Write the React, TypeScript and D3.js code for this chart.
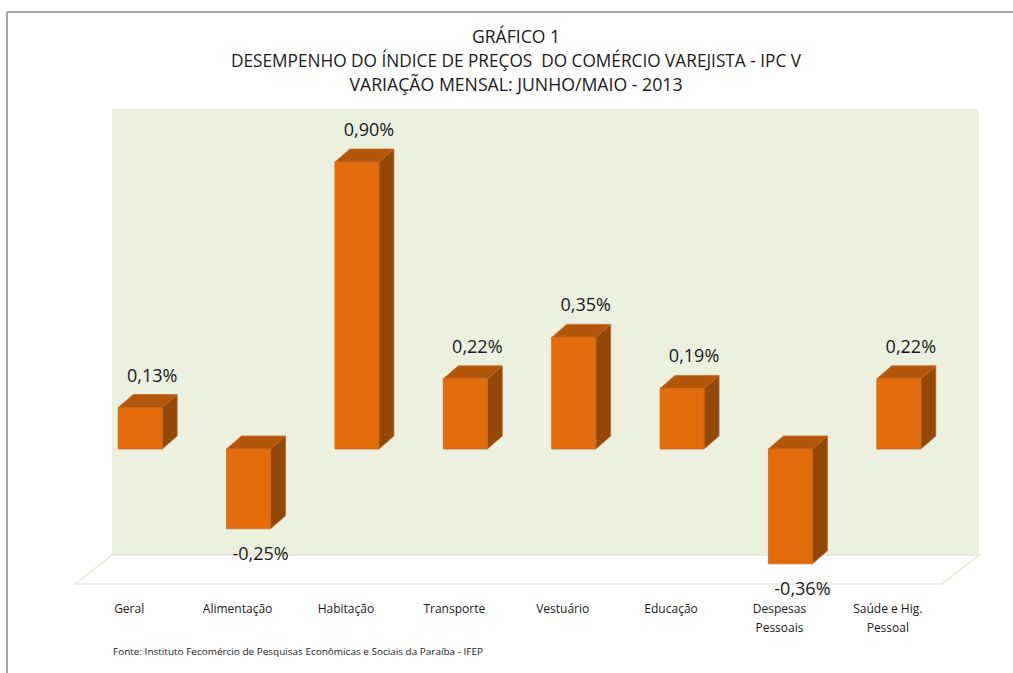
import React from 'react';
import * as d3 from 'd3';

// data
const categories = ['Geral', 'Alimentação', 'Habitação', 'Transporte', 'Vestuário', 'Educação', 'Despesas Pessoais', 'Saúde e Hig. Pessoal'];
const categoryLines = [['Geral'], ['Alimentação'], ['Habitação'], ['Transporte'], ['Vestuário'], ['Educação'], ['Despesas', 'Pessoais'], ['Saúde e Hig.', 'Pessoal']];
const values = [0.13, -0.25, 0.90, 0.22, 0.35, 0.19, -0.36, 0.22];
const valueLabels = ['0,13%', '-0,25%', '0,90%', '0,22%', '0,35%', '0,19%', '-0,36%', '0,22%'];
const titleLines = ['GRÁFICO 1', 'DESEMPENHO DO ÍNDICE DE PREÇOS  DO COMÉRCIO VAREJISTA - IPC V', 'VARIAÇÃO MENSAL: JUNHO/MAIO - 2013'];
const source = 'Fonte: Instituto Fecomércio de Pesquisas Econômicas e Sociais da Paraíba - IFEP';

const W = 1013, H = 673;
// floor / wall geometry
const floorFront = { l: 75, r: 942, y: 584 };
const depth = { dx: 37, dy: -29 };
const wallTop = 109;
const barDepth = { dx: 15, dy: -13 };
const barW = 44;
const barShift = 11;

const FONT = "'Open Sans', 'Noto Sans', sans-serif";

const App = () => {
  const x = d3.scaleBand<string>().domain(categories).range([floorFront.l, floorFront.r]);
  const y = d3.scaleLinear().domain([0, 0.9]).range([449, 162]);
  const cx = (c: string) => (x(c) as number) + x.bandwidth() / 2;

  const wallL = floorFront.l + depth.dx, wallR = floorFront.r + depth.dx, wallB = floorFront.y + depth.dy;
  const floorPts = [
    [floorFront.l, floorFront.y], [wallL, wallB], [wallR, wallB], [floorFront.r, floorFront.y],
  ].map(p => p.join(',')).join(' ');

  return (
    <svg width={W} height={H} style={{ position: 'absolute', left: 0, top: 0, background: '#fff' }} fontFamily={FONT}>
      <rect x={0} y={0} width={W} height={H} fill="#fff" />
      {/* chart border */}
      <line x1={7} y1={12} x2={W} y2={12} stroke="#a6a6a6" strokeWidth={2} />
      <line x1={7} y1={12} x2={7} y2={H} stroke="#a6a6a6" strokeWidth={2} />

      {/* title */}
      {titleLines.map((t, i) => (
        <text key={i} x={516} y={[43, 67, 91][i]} textAnchor="middle" fontSize={18} fill="#1a1a1a"
          style={{ whiteSpace: 'pre' }}
          textLength={[88, 570, 333][i]} lengthAdjust="spacingAndGlyphs">{t}</text>
      ))}

      {/* back wall and floor */}
      <rect x={wallL} y={wallTop} width={wallR - wallL} height={wallB - wallTop} fill="#ebf1de" />
      <polygon points={floorPts} fill="#fff" stroke="#e6e6d6" strokeWidth={1.5} />

      {/* bars */}
      {categories.map((c, i) => {
        const v = values[i];
        const x0 = cx(c) + barShift - barW / 2, x1 = x0 + barW;
        const yTop = y(Math.max(0, v)), yBot = y(Math.min(0, v));
        const { dx, dy } = barDepth;
        const top = `${x0},${yTop} ${x0 + dx},${yTop + dy} ${x1 + dx},${yTop + dy} ${x1},${yTop}`;
        const side = `${x1},${yTop} ${x1 + dx},${yTop + dy} ${x1 + dx},${yBot + dy} ${x1},${yBot}`;
        return (
          <g key={c} stroke="#c76a24" strokeWidth={0.8} strokeLinejoin="round">
            <polygon points={side} fill="#944808" />
            <polygon points={top} fill="#b3560a" />
            <rect x={x0} y={yTop} width={barW} height={yBot - yTop} fill="#e46c0a" />
          </g>
        );
      })}

      {/* value labels */}
      {categories.map((c, i) => {
        const v = values[i];
        const lx = cx(c) + barShift + 12;
        const ly = v >= 0 ? y(v) + barDepth.dy - 13 : y(v) + 31;
        return (
          <text key={c} x={lx} y={ly} textAnchor="middle" fontSize={18} fill="#1a1a1a">{valueLabels[i]}</text>
        );
      })}

      {/* category labels */}
      {categories.map((c, i) => (
        <text key={c} x={cx(c)} y={613} textAnchor="middle" fontSize={12} fill="#1a1a1a">
          {categoryLines[i].map((l, j) => (
            <tspan key={j} x={cx(c)} dy={j === 0 ? 0 : 19}>{l}</tspan>
          ))}
        </text>
      ))}

      {/* source */}
      <text x={113} y={655} fontSize={9.5} fill="#1a1a1a" textLength={370} lengthAdjust="spacingAndGlyphs">{source}</text>
    </svg>
  );
};

export default App;
